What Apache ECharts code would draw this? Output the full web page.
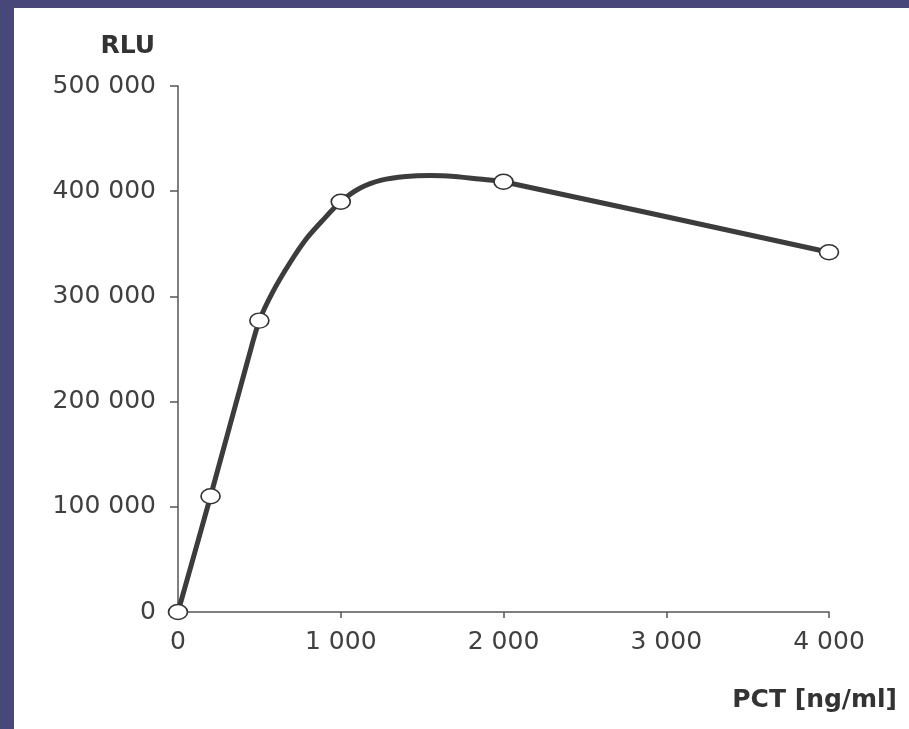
<!DOCTYPE html>
<html>
<head>
<meta charset="utf-8">
<script src="https://cdn.jsdelivr.net/npm/echarts@6/dist/echarts.min.js"></script>
<style>
  html, body { margin: 0; padding: 0; width: 909px; height: 729px; background: #47477a; overflow: hidden; }
  #chart { position: absolute; left: 14px; top: 8px; width: 895px; height: 721px; background: #ffffff; }
</style>
</head>
<body>
<div id="chart"></div>
<script>
const pctValues = [0, 200, 500, 1000, 2000, 4000];             // PCT [ng/ml]
const rluValues = [0, 110000, 277000, 390000, 409000, 342000];  // RLU
// Fitted curve, sampled along the drawn line in the reference picture
const curvePct = [0, 200, 430, 500, 585, 688, 790, 893, 1000, 1120, 1250, 1400, 1550, 1700, 1850, 2000, 4000];
const curveRlu = [0, 110000, 240000, 277000, 305000, 332000, 355000, 373000, 390000, 403000, 410500, 414000, 415000, 414000, 411500, 409000, 342000];
const xTicks = [0, 1000, 2000, 3000, 4000];
const yTicks = [0, 100000, 200000, 300000, 400000, 500000];
const xTitle = 'PCT [ng/ml]';
const yTitle = 'RLU';

const fmt = v => String(Math.round(v)).replace(/\B(?=(\d{3})+(?!\d))/g, ' ');

const chart = echarts.init(document.getElementById('chart'), null, { renderer: 'canvas' });
const font = '"DejaVu Sans", sans-serif';
const axisCol = '#555555';
const textCol = '#404040';

chart.setOption({
  animation: false,
  backgroundColor: '#ffffff',
  grid: { left: 164, top: 78, right: 80, bottom: 117 },
  xAxis: {
    type: 'value',
    min: xTicks[0], max: xTicks[xTicks.length - 1], interval: xTicks[1] - xTicks[0],
    name: xTitle,
    nameLocation: 'end',
    nameGap: 68,
    nameTextStyle: { fontFamily: font, fontWeight: 'bold', fontSize: 25, color: '#333', align: 'right', verticalAlign: 'top', padding: [76, 0, 0, 0] },
    axisLine: { lineStyle: { color: axisCol, width: 1.5 } },
    axisTick: { show: true, length: 6, lineStyle: { color: axisCol, width: 1.5 } },
    axisLabel: { formatter: fmt, fontFamily: font, fontSize: 25, color: textCol, margin: 18 },
    splitLine: { show: false }
  },
  yAxis: {
    type: 'value',
    min: yTicks[0], max: yTicks[yTicks.length - 1], interval: yTicks[1] - yTicks[0],
    name: yTitle,
    nameLocation: 'end',
    nameGap: 40,
    nameTextStyle: { fontFamily: font, fontWeight: 'bold', fontSize: 25, color: '#333', align: 'right', verticalAlign: 'middle', padding: [0, 23, 0, 0] },
    axisLine: { show: true, lineStyle: { color: axisCol, width: 1.5 } },
    axisTick: { show: true, length: 8, lineStyle: { color: axisCol, width: 1.5 } },
    axisLabel: { formatter: fmt, fontFamily: font, fontSize: 25, color: textCol, margin: 22 },
    splitLine: { show: false }
  },
  series: [{
    type: 'line',
    data: curvePct.map((x, i) => [x, curveRlu[i]]),
    smooth: 0.3,
    showSymbol: false,
    lineStyle: { color: '#3c3c3c', width: 5 },
    z: 2
  }, {
    type: 'scatter',
    data: pctValues.map((x, i) => [x, rluValues[i]]),
    symbol: 'circle',
    symbolSize: [19, 15],
    itemStyle: { color: '#ffffff', borderColor: '#333333', borderWidth: 1.5, opacity: 1 },
    z: 3
  }]
});
</script>
</body>
</html>
